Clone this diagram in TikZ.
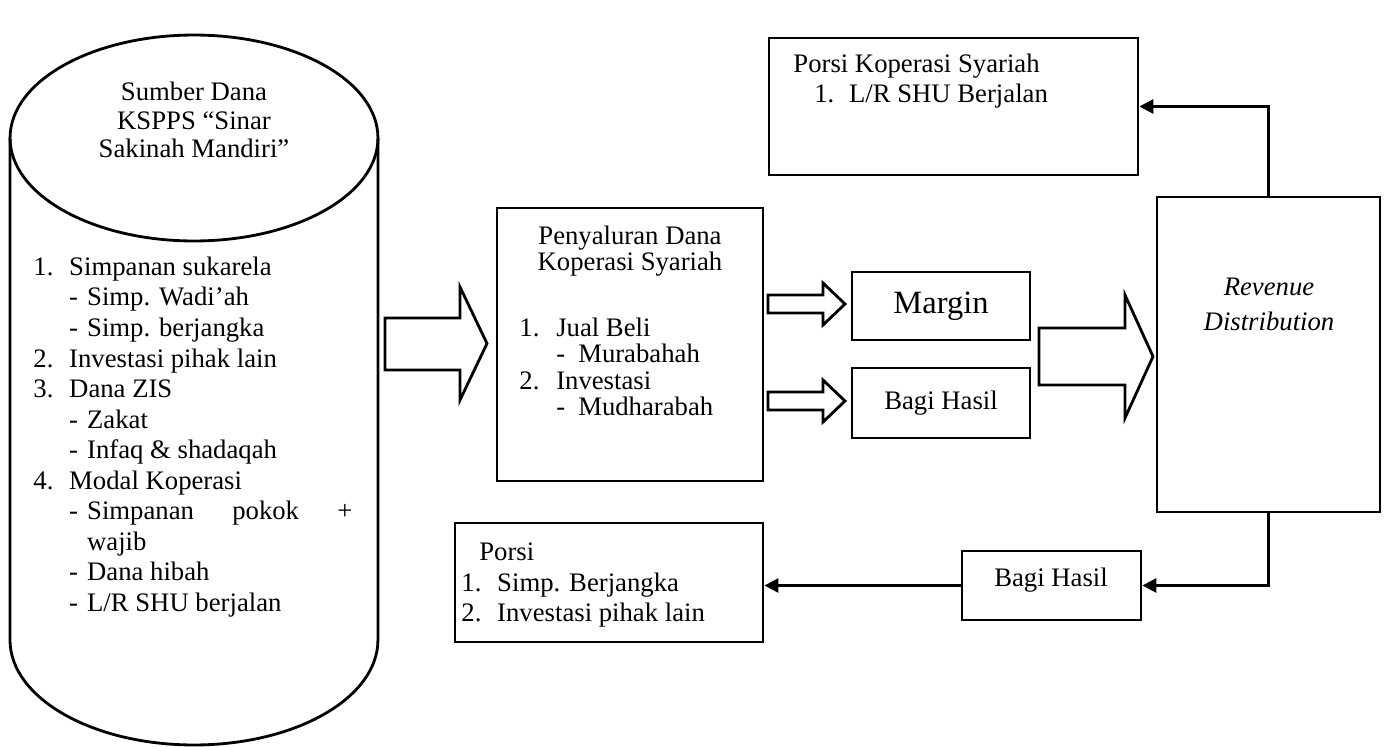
\documentclass[tikz,border=0pt]{standalone}
\usepackage{fontspec}
\setmainfont{Liberation Serif}
\usetikzlibrary{positioning,arrows.meta}

\newcommand{\numitem}[2]{\makebox[20.4pt][l]{#1}#2}
\newcommand{\dashitem}[1]{\hspace*{20.4pt}\makebox[10.2pt][l]{-}#1}

\begin{document}
\begin{tikzpicture}[
  x=0.02cm, y=-0.02cm,
  line width=1.6pt,
  box/.style={draw,rectangle,inner sep=0pt},
  txt/.style={inner sep=0pt,font=\fontsize{15.2}{17.4}\selectfont},
  blockarrow/.style={draw,line join=miter,fill=white},
  conn/.style={draw,-{Triangle[length=8pt,width=8pt]}},
]
  \useasboundingbox (0,0) rectangle (1390,747);

  % Source of funds (cylinder)
  \draw (10,138) -- (10,640)
    arc[start angle=180,end angle=360,x radius=3.68cm,y radius=2.1cm]
    -- (378,138);
  \draw (194,138) ellipse [x radius=3.68cm,y radius=2.06cm];
  \node[txt,align=center,font=\fontsize{15.2}{16.4}\selectfont] (sumber) at (194,120)
    {Sumber Dana\\KSPPS “Sinar\\Sakinah Mandiri”};
  \node[txt,align=left,anchor=west] (sumberlist) at (32,437) {%
    \numitem{1.}{Simpanan sukarela}\\
    \dashitem{Simp. Wadi’ah}\\
    \dashitem{Simp. berjangka}\\
    \numitem{2.}{Investasi pihak lain}\\
    \numitem{3.}{Dana ZIS}\\
    \dashitem{Zakat}\\
    \dashitem{Infaq \& shadaqah}\\
    \numitem{4.}{Modal Koperasi}\\
    \dashitem{\makebox[151pt][s]{Simpanan\hfill pokok\hfill +}}\\
    \hspace*{30.6pt}wajib\\
    \dashitem{Dana hibah}\\
    \dashitem{L/R SHU berjalan}};

  % Distribution of funds
  \node[box,minimum width=5.32cm,minimum height=5.46cm] (salur) at (630,344.5) {};
  \node[txt,align=center,font=\fontsize{15.2}{15}\selectfont] (saluruju) at (630,251)
    {Penyaluran Dana\\Koperasi Syariah};
  \node[txt,align=left,anchor=west,font=\fontsize{15.2}{15}\selectfont] (salurlist) at (518,367) {%
    \makebox[21pt][l]{1.}Jual Beli\\
    \hspace*{21pt}\makebox[12.5pt][l]{-}Murabahah\\
    \makebox[21pt][l]{2.}Investasi\\
    \hspace*{21pt}\makebox[12.5pt][l]{-}Mudharabah};

  % Income
  \node[box,minimum width=3.56cm,minimum height=1.36cm] (margin) at (941,306) {};
  \node[txt,font=\fontsize{18.5}{20}\selectfont] at (margin) {Margin};
  \node[box,minimum width=3.56cm,minimum height=1.4cm] (bagihasil) at (941,403) {};
  \node[txt] at (bagihasil) {Bagi Hasil};

  % Revenue distribution
  \node[box,minimum width=4.46cm,minimum height=6.3cm] (revenue) at (1268.5,354.5) {};
  \node[txt,align=center,font=\fontsize{15.2}{19.8}\itshape] at (1269,304.5)
    {Revenue\\Distribution};

  % Shares
  \node[box,minimum width=7.38cm,minimum height=2.74cm] (porsiks) at (953.5,106.5) {};
  \node[txt,align=left,anchor=west,font=\fontsize{15.2}{17}\selectfont] at (792,81)
    {Porsi Koperasi Syariah\\\hspace*{11.9pt}\makebox[19.8pt][l]{1.}L/R SHU Berjalan};
  \node[box,minimum width=3.58cm,minimum height=1.38cm] (bagibawah) at (1051.5,585.5) {};
  \node[txt] at (1051,580) {Bagi Hasil};
  \node[box,minimum width=6.16cm,minimum height=2.38cm] (porsi) at (609,582.5) {};
  \node[txt,align=left,anchor=west,font=\fontsize{15.2}{17.3}\selectfont] at (460,585)
    {\hspace*{10.2pt}Porsi\\\makebox[20.4pt][l]{1.}Simp. Berjangka\\\makebox[20.4pt][l]{2.}Investasi pihak lain};

  % Block arrows
  \draw[blockarrow] (385,318) -- (460,318) -- (460,287) -- (487,343.5)
    -- (460,400) -- (460,370) -- (385,370) -- cycle;
  \draw[blockarrow] (768,295) -- (823,295) -- (823,283) -- (845,304)
    -- (823,325) -- (823,313) -- (768,313) -- cycle;
  \draw[blockarrow] (768,392) -- (823,392) -- (823,380) -- (845,401)
    -- (823,422) -- (823,410) -- (768,410) -- cycle;
  \draw[blockarrow] (1039,328) -- (1125,328) -- (1125,295) -- (1153,356.5)
    -- (1125,418) -- (1125,385) -- (1039,385) -- cycle;

  % Connectors
  \draw[conn] (revenue.north) |- (porsiks.east);
  \draw[conn] (revenue.south) |- (bagibawah.east);
  \draw[conn] (bagibawah.west) -- (bagibawah.west -| porsi.east);
\end{tikzpicture}
\end{document}
